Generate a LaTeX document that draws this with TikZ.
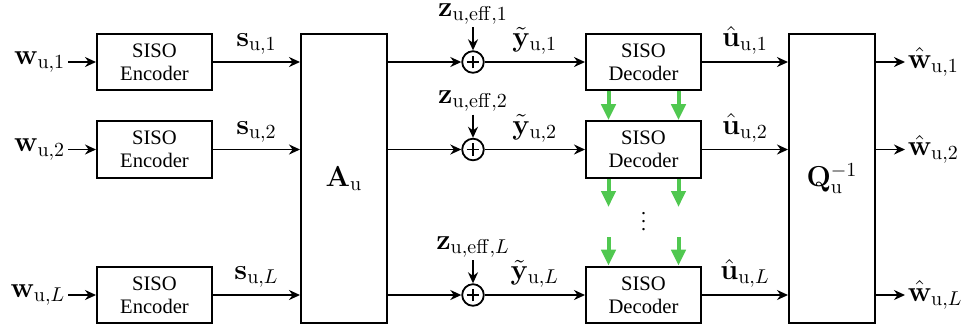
\documentclass[tikz,border=0pt]{standalone}
\usepackage{amsmath}
\usepackage[no-math]{fontspec}
\setmainfont{Liberation Serif}
\usepackage{tikz}
\usetikzlibrary{arrows.meta,positioning}
\definecolor{passgreen}{RGB}{80,200,80}

\begin{document}
\begin{tikzpicture}[x=0.5pt,y=-0.5pt,
    block/.style={draw, line width=1pt, minimum width=57.5pt, minimum height=28.3pt,
      inner sep=0pt, align=center, font=\fontsize{10.3}{11.3}\selectfont},
    bigbox/.style={draw, line width=1pt, minimum width=43pt, minimum height=144.5pt,
      inner sep=0pt, font=\fontsize{14}{16}\selectfont},
    lbl/.style={inner sep=1.2pt, font=\fontsize{14.5}{17}\selectfont},
    adder/.style={draw, circle, line width=0.9pt, minimum size=10.8pt, inner sep=0pt},
    sig/.style={line width=0.9pt, -{Stealth[length=5.5pt,width=5pt,inset=1.8pt]}},
    pass/.style={passgreen, line width=2pt, -{Triangle[length=8pt,width=7pt]}}]
    \useasboundingbox (0,0) rectangle (963,329);

    \node [bigbox] (A) at (344,178.5) {$\mathbf{A}_\mathrm{u}$};
    \node [bigbox] (Q) at (832,178.5) {$\mathbf{Q}_\mathrm{u}^{-1}$};

    \foreach \i/\y in {1/62, 2/149.5, L/295} {
      \node [block] (enc\i) at (154.5,\y) {SISO\\Encoder};
      \node [block] (dec\i) at (643.5,\y) {SISO\\Decoder};
      \node [adder] (add\i) at (473,\y) {};
      \draw [line width=0.9pt] ([xshift=-3.2pt]add\i.center) -- ([xshift=3.2pt]add\i.center)
        ([yshift=-3.2pt]add\i.center) -- ([yshift=3.2pt]add\i.center);
      \node [lbl, anchor=east] (w\i) at (68,\y) {$\mathbf{w}_{\mathrm{u},\i}$};
      \node [lbl, anchor=west] (what\i) at (905,\y) {$\hat{\mathbf{w}}_{\mathrm{u},\i}$};
      \node [lbl, anchor=south] (z\i) at (473,\y-35) {$\mathbf{z}_{\mathrm{u},\mathrm{eff},\i}$};

      \draw [sig] (w\i) -- (enc\i);
      \draw [sig] (enc\i) -- node [lbl, above=2pt] {$\mathbf{s}_{\mathrm{u},\i}$} (A.west |- enc\i);
      \draw [sig] (A.east |- add\i) -- (add\i);
      \draw [sig] (z\i) -- (add\i);
      \draw [sig] (add\i) -- node [lbl, above=2pt] {$\tilde{\mathbf{y}}_{\mathrm{u},\i}$} (dec\i);
      \draw [sig] (dec\i) -- node [lbl, above=2pt] {$\hat{\mathbf{u}}_{\mathrm{u},\i}$} (Q.west |- dec\i);
      \draw [sig] (Q.east |- what\i) -- (what\i);
    }

    % message passing between decoders
    \coordinate (gaptop) at (643.5,207);
    \coordinate (gapbot) at (643.5,237);
    \node [inner sep=0pt] (dots) at (643.5,216) {$\vdots$};
    \foreach \s in {-17.5pt,17.5pt} {
      \draw [pass] ([xshift=\s]dec1.south) -- ([xshift=\s]dec2.north);
      \draw [pass] ([xshift=\s]dec2.south) -- ([xshift=\s]gaptop);
      \draw [pass] ([xshift=\s]gapbot) -- ([xshift=\s]decL.north);
    }
\end{tikzpicture}
\end{document}
